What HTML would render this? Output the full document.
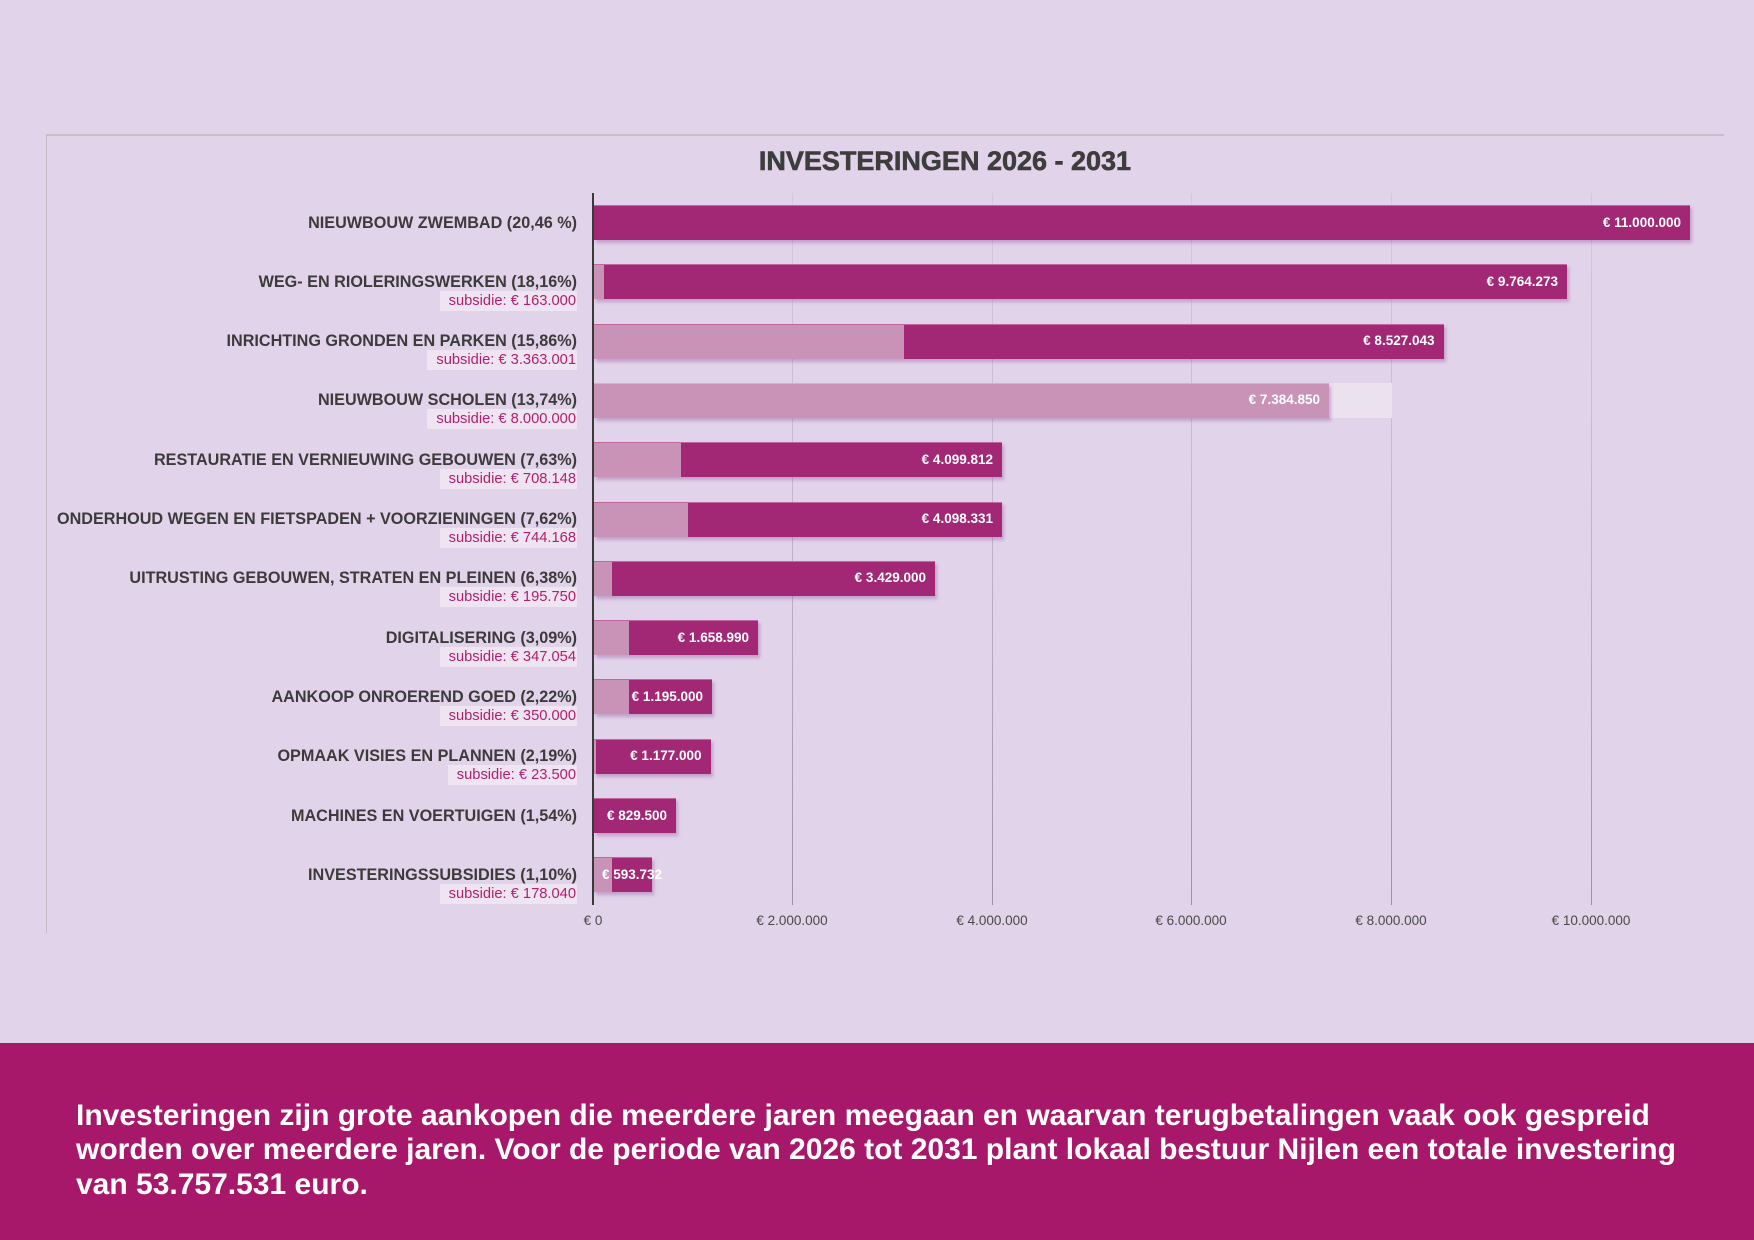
<!DOCTYPE html>
<html><head><meta charset="utf-8">
<style>
*{margin:0;padding:0;box-sizing:border-box}
html,body{width:1754px;height:1240px;overflow:hidden;background:#e1d3e9;font-family:"Liberation Sans",Arial,sans-serif}
.abs{position:absolute}
.grid{position:absolute;top:193px;height:712px;width:1px;background:linear-gradient(to bottom,rgba(170,150,175,0.2) 0%,rgba(160,140,165,0.35) 35%,rgba(140,120,145,0.75) 100%)}
.bar{position:absolute;height:35px;box-shadow:2px 3px 3px rgba(140,70,150,0.35);border-top:1px solid rgba(255,220,240,0.35)}
.dark{background:#a22876}
.light{background:#c993b7}
.cat{position:absolute;right:1177px;height:20px;line-height:20px;font-size:16.2px;font-weight:bold;color:#3b3b3b;white-space:nowrap}
.sub{position:absolute;right:1177px;height:20px;line-height:20px;font-size:14.7px;color:#b0206e;background:#eee4f2;padding:0 1px 0 9px;white-space:nowrap}
.val{position:absolute;height:20px;line-height:20px;font-size:13.5px;font-weight:bold;color:#fff;white-space:nowrap}
.tick{position:absolute;top:913px;width:120px;text-align:center;font-size:13.5px;line-height:16px;color:#4a4a4a}
</style></head><body>

<!-- chart frame -->
<div class="abs" style="left:46px;top:134px;width:1678px;height:2px;background:#c6bec8"></div>
<div class="abs" style="left:46px;top:135px;width:1px;height:798px;background:#c0b8c2"></div>

<div class="abs" style="left:0;width:1890px;top:145px;text-align:center;font-size:27px;line-height:32px;font-weight:bold;color:#3d3d3d;-webkit-text-stroke:0.6px #3d3d3d;white-space:nowrap">INVESTERINGEN 2026 - 2031</div>

<!-- gridlines -->
<div class="grid" style="left:792px"></div>
<div class="grid" style="left:992px"></div>
<div class="grid" style="left:1191px"></div>
<div class="grid" style="left:1391px"></div>
<div class="grid" style="left:1591px"></div>

<!-- Row 1 -->
<div class="bar dark" style="left:594px;top:205px;width:1096px"></div>
<div class="val" style="right:73px;top:212.5px">€ 11.000.000</div>
<div class="cat" style="top:212.5px">NIEUWBOUW ZWEMBAD (20,46 %)</div>

<!-- Row 2 -->
<div class="bar dark" style="left:594px;top:264.3px;width:973px"></div>
<div class="abs light" style="left:594px;top:265.3px;width:10px;height:34px"></div>
<div class="val" style="right:196px;top:271.8px">€ 9.764.273</div>
<div class="cat" style="top:271.8px">WEG- EN RIOLERINGSWERKEN (18,16%)</div>
<div class="sub" style="top:290.8px">subsidie: € 163.000</div>

<!-- Row 3 -->
<div class="bar dark" style="left:594px;top:323.6px;width:849.5px"></div>
<div class="abs light" style="left:594px;top:324.6px;width:309.5px;height:34px"></div>
<div class="val" style="right:319.5px;top:331.1px">€ 8.527.043</div>
<div class="cat" style="top:331.1px">INRICHTING GRONDEN EN PARKEN (15,86%)</div>
<div class="sub" style="top:350.1px">subsidie: € 3.363.001</div>

<!-- Row 4 -->
<div class="abs" style="left:1329px;top:382.9px;width:63px;height:35px;background:#ebe2f0"></div>
<div class="bar light" style="left:594px;top:382.9px;width:735px"></div>
<div class="val" style="right:434px;top:390.4px">€ 7.384.850</div>
<div class="cat" style="top:390.4px">NIEUWBOUW SCHOLEN (13,74%)</div>
<div class="sub" style="top:409.4px">subsidie: € 8.000.000</div>

<!-- Row 5 -->
<div class="bar dark" style="left:594px;top:442.2px;width:408px"></div>
<div class="abs light" style="left:594px;top:443.2px;width:87px;height:34px"></div>
<div class="val" style="right:761px;top:449.7px">€ 4.099.812</div>
<div class="cat" style="top:449.7px">RESTAURATIE EN VERNIEUWING GEBOUWEN (7,63%)</div>
<div class="sub" style="top:468.7px">subsidie: € 708.148</div>

<!-- Row 6 -->
<div class="bar dark" style="left:594px;top:501.5px;width:408px"></div>
<div class="abs light" style="left:594px;top:502.5px;width:93.5px;height:34px"></div>
<div class="val" style="right:761px;top:509px">€ 4.098.331</div>
<div class="cat" style="top:509px">ONDERHOUD WEGEN EN FIETSPADEN + VOORZIENINGEN (7,62%)</div>
<div class="sub" style="top:528px">subsidie: € 744.168</div>

<!-- Row 7 -->
<div class="bar dark" style="left:594px;top:560.8px;width:341px"></div>
<div class="abs light" style="left:594px;top:561.8px;width:18px;height:34px"></div>
<div class="val" style="right:828px;top:568.3px">€ 3.429.000</div>
<div class="cat" style="top:568.3px">UITRUSTING GEBOUWEN, STRATEN EN PLEINEN (6,38%)</div>
<div class="sub" style="top:587.3px">subsidie: € 195.750</div>

<!-- Row 8 -->
<div class="bar dark" style="left:594px;top:620.1px;width:164px"></div>
<div class="abs light" style="left:594px;top:621.1px;width:34.6px;height:34px"></div>
<div class="val" style="right:1005px;top:627.6px">€ 1.658.990</div>
<div class="cat" style="top:627.6px">DIGITALISERING (3,09%)</div>
<div class="sub" style="top:646.6px">subsidie: € 347.054</div>

<!-- Row 9 -->
<div class="bar dark" style="left:594px;top:679.4px;width:118.4px"></div>
<div class="abs light" style="left:594px;top:680.4px;width:34.6px;height:34px"></div>
<div class="val" style="right:1051px;top:686.9px">€ 1.195.000</div>
<div class="cat" style="top:686.9px">AANKOOP ONROEREND GOED (2,22%)</div>
<div class="sub" style="top:705.9px">subsidie: € 350.000</div>

<!-- Row 10 -->
<div class="bar dark" style="left:594px;top:738.7px;width:116.5px"></div>
<div class="abs light" style="left:594px;top:739.7px;width:2px;height:34px"></div>
<div class="val" style="right:1052.5px;top:746.2px">€ 1.177.000</div>
<div class="cat" style="top:746.2px">OPMAAK VISIES EN PLANNEN (2,19%)</div>
<div class="sub" style="top:765.2px">subsidie: € 23.500</div>

<!-- Row 11 -->
<div class="bar dark" style="left:594px;top:798px;width:82px"></div>
<div class="val" style="right:1087px;top:805.5px">€ 829.500</div>
<div class="cat" style="top:805.5px">MACHINES EN VOERTUIGEN (1,54%)</div>

<!-- Row 12 -->
<div class="bar dark" style="left:594px;top:857.3px;width:58px"></div>
<div class="abs light" style="left:594px;top:858.3px;width:18px;height:34px"></div>
<div class="val" style="left:602px;top:864.8px">€ 593.732</div>
<div class="cat" style="top:864.8px">INVESTERINGSSUBSIDIES (1,10%)</div>
<div class="sub" style="top:883.8px">subsidie: € 178.040</div>

<!-- axis -->
<div class="abs" style="left:592px;top:193px;width:2px;height:712px;background:#3a3a3a"></div>

<!-- ticks -->
<div class="tick" style="left:533px">€ 0</div>
<div class="tick" style="left:732px">€ 2.000.000</div>
<div class="tick" style="left:932px">€ 4.000.000</div>
<div class="tick" style="left:1131px">€ 6.000.000</div>
<div class="tick" style="left:1331px">€ 8.000.000</div>
<div class="tick" style="left:1531px">€ 10.000.000</div>

<!-- footer -->
<div class="abs" style="left:0;top:1043px;width:1754px;height:197px;background:#a8186a"></div>
<div class="abs" style="left:76px;top:1099px;font-size:30px;line-height:34.3px;font-weight:bold;color:#fff;white-space:nowrap">Investeringen zijn grote aankopen die meerdere jaren meegaan en waarvan terugbetalingen vaak ook gespreid<br>worden over meerdere jaren. Voor de periode van 2026 tot 2031 plant lokaal bestuur Nijlen een totale investering<br>van 53.757.531 euro.</div>

</body></html>
